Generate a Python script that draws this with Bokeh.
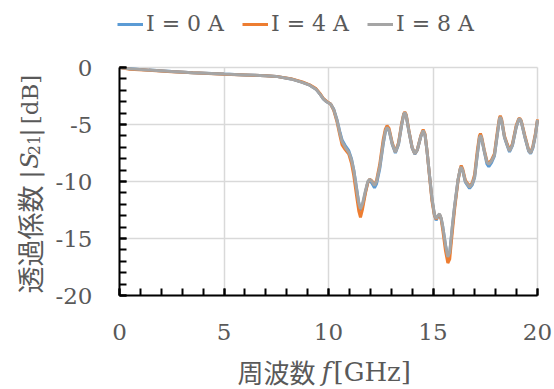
import math
from bokeh.plotting import figure
from bokeh.models import Range1d, FixedTicker, Legend, LegendItem, Label, Grid
from bokeh.embed import file_html
from bokeh.resources import INLINE

# ---------------- data ----------------
freq_ghz = [0.0, 0.5, 1.4, 2.5, 3.5, 5.0, 6.0, 7.0, 7.5, 8.2,
            8.75, 9.1, 9.4, 9.62, 9.75, 9.9, 10.1, 10.25, 10.41, 10.55,
            10.65, 10.8, 10.97, 11.1, 11.21, 11.37, 11.45, 11.53, 11.62, 11.77,
            11.88, 11.97, 12.08, 12.2, 12.3, 12.45, 12.62, 12.72, 12.8, 12.9,
            13.05, 13.2, 13.35, 13.5, 13.6, 13.65, 13.72, 13.85, 14.0, 14.13,
            14.25, 14.42, 14.53, 14.62, 14.72, 14.83, 14.95, 15.07, 15.15, 15.23,
            15.31, 15.39, 15.47, 15.6, 15.71, 15.8, 15.92, 16.03, 16.2, 16.3,
            16.35, 16.42, 16.55, 16.75, 16.88, 16.99, 17.12, 17.22, 17.27, 17.33,
            17.45, 17.58, 17.67, 17.8, 17.94, 18.08, 18.18, 18.22, 18.28, 18.42,
            18.55, 18.66, 18.8, 18.98, 19.1, 19.15, 19.22, 19.4, 19.58, 19.67,
            19.78, 19.9, 20.0]

s21_i0 = [0.0, -0.12, -0.23, -0.35, -0.45, -0.58, -0.65, -0.72, -0.78, -1.0,
          -1.3, -1.55, -1.9, -2.4, -2.75, -3.0, -3.2, -3.65, -4.6, -5.7,
          -6.35, -6.85, -7.3, -8.0, -9.0, -10.9, -11.9, -12.55, -12.2, -10.9,
          -10.1, -9.9, -10.15, -10.55, -10.2, -8.9, -6.7, -5.65, -5.3, -5.55,
          -6.75, -7.5, -6.75, -5.05, -4.15, -4.0, -4.25, -5.65, -7.05, -7.6,
          -7.25, -6.05, -5.6, -5.95, -7.45, -9.4, -11.5, -12.95, -13.4, -13.1,
          -12.9, -13.25, -14.0, -15.6, -16.7, -16.3, -14.1, -12.25, -9.85, -8.95,
          -8.8, -9.05, -10.05, -10.6, -10.3, -9.65, -7.65, -6.25, -6.0, -6.25,
          -7.35, -8.45, -8.7, -8.35, -7.75, -5.85, -4.55, -4.4, -4.65, -6.15,
          -6.85, -7.4, -6.85, -5.25, -4.6, -4.55, -4.75, -6.15, -7.35, -7.55,
          -7.05, -5.95, -4.65]

s21_i4 = [0.0, -0.15, -0.25, -0.37, -0.47, -0.6, -0.66, -0.73, -0.78, -0.98,
          -1.27, -1.52, -1.85, -2.35, -2.7, -2.95, -3.2, -3.75, -4.8, -6.0,
          -6.8, -7.2, -7.6, -8.4, -9.5, -11.6, -12.6, -13.15, -12.5, -11.0,
          -10.1, -9.8, -9.95, -10.3, -9.9, -8.5, -6.3, -5.4, -5.1, -5.35,
          -6.6, -7.4, -6.6, -4.9, -4.05, -3.9, -4.15, -5.55, -7.0, -7.55,
          -7.2, -5.95, -5.45, -5.85, -7.4, -9.5, -11.7, -13.0, -13.3, -13.05,
          -12.9, -13.3, -14.3, -16.1, -17.15, -16.8, -14.5, -12.5, -9.9, -8.9,
          -8.6, -8.9, -9.9, -10.4, -10.1, -9.4, -7.3, -6.0, -5.8, -6.1,
          -7.2, -8.2, -8.4, -8.1, -7.55, -5.6, -4.4, -4.25, -4.5, -6.0,
          -6.7, -7.25, -6.7, -5.1, -4.5, -4.45, -4.65, -6.0, -7.25, -7.45,
          -6.9, -5.8, -4.55]

s21_i8 = [0.0, -0.12, -0.23, -0.35, -0.45, -0.58, -0.65, -0.72, -0.78, -1.0,
          -1.3, -1.55, -1.9, -2.4, -2.75, -3.0, -3.2, -3.7, -4.67, -5.8,
          -6.5, -7.0, -7.44, -8.1, -9.04, -11.0, -11.9, -12.4, -12.0, -10.8,
          -10.0, -9.8, -10.0, -10.35, -10.0, -8.75, -6.6, -5.6, -5.25, -5.5,
          -6.7, -7.44, -6.7, -5.0, -4.1, -3.94, -4.2, -5.6, -7.0, -7.55,
          -7.2, -6.0, -5.54, -5.9, -7.4, -9.4, -11.5, -12.9, -13.25, -13.0,
          -12.84, -13.2, -14.0, -15.6, -16.63, -16.2, -14.0, -12.2, -9.8, -8.9,
          -8.73, -9.0, -10.0, -10.5, -10.2, -9.6, -7.6, -6.2, -5.95, -6.2,
          -7.3, -8.3, -8.5, -8.2, -7.7, -5.8, -4.5, -4.35, -4.6, -6.1,
          -6.8, -7.33, -6.8, -5.2, -4.55, -4.5, -4.7, -6.1, -7.3, -7.5,
          -7.0, -5.9, -4.6]

series_names = ["I = 0 A", "I = 4 A", "I = 8 A"]
series_colors = ["#5B9BD5", "#ED7D31", "#A5A5A5"]

x_ticks = [0, 5, 10, 15, 20]
x_tick_labels = ["0", "5", "10", "15", "20"]
y_ticks = [-20, -15, -10, -5, 0]
y_tick_labels = ["-20", "-15", "-10", "-5", "0"]
X_MIN, X_MAX = 0, 20
Y_MIN, Y_MAX = -20, 0

# ---------------- layout ----------------
# The frame covers the whole canvas; the axes sit at fixed data locations so
# that legend and titles can be drawn as annotations inside the frame.
W, H = 554, 389
PL, PR, PT, PB = 119, 537, 67, 295          # visible plot area in pixels
PX_X = (PR - PL) / (X_MAX - X_MIN)
PX_Y = (PB - PT) / (Y_MAX - Y_MIN)

def dx(px):
    return X_MIN + (px - PL) / PX_X

def dy(py):
    return Y_MAX - (py - PT) / PX_Y

LATIN = "DejaVu Serif"
CJK = "Noto Sans CJK JP"
GREY_TXT = "#595959"

p = figure(width=W, height=H, output_backend="svg", toolbar_location=None,
           x_range=Range1d(dx(0), dx(W)), y_range=Range1d(dy(H), dy(0)),
           min_border=0)
p.outline_line_color = None
p.background_fill_color = "white"
p.border_fill_color = "white"

p.xaxis.ticker = FixedTicker(ticks=x_ticks, minor_ticks=list(range(X_MIN, X_MAX + 1)))
p.yaxis.ticker = FixedTicker(ticks=y_ticks, minor_ticks=list(range(Y_MIN, Y_MAX + 1)))
p.xaxis.major_label_overrides = dict(zip(x_ticks, x_tick_labels))
p.yaxis.major_label_overrides = dict(zip(y_ticks, y_tick_labels))
p.xaxis.fixed_location = Y_MIN
p.yaxis.fixed_location = X_MIN
p.xaxis.bounds = (X_MIN, X_MAX)
p.yaxis.bounds = (Y_MIN, Y_MAX)

for ax in (p.xaxis[0], p.yaxis[0]):
    ax.axis_line_color = "black"
    ax.axis_line_width = 2
    ax.major_tick_line_color = "black"
    ax.major_tick_line_width = 2
    ax.major_tick_in = 7
    ax.major_tick_out = 0
    ax.minor_tick_line_color = "black"
    ax.minor_tick_line_width = 2
    ax.minor_tick_in = 7
    ax.minor_tick_out = 0
    ax.major_label_text_font = LATIN
    ax.major_label_text_font_size = "23px"
    ax.major_label_text_color = GREY_TXT
p.xaxis.major_label_standoff = 28
p.yaxis.major_label_standoff = 27

GRID_COLOR = "#d9d9d9"
if "cross_bounds" in Grid.properties():
    for g in (p.xgrid[0], p.ygrid[0]):
        g.grid_line_color = GRID_COLOR
        g.grid_line_width = 1.5
    p.xgrid[0].bounds = (X_MIN, X_MAX)
    p.xgrid[0].cross_bounds = (Y_MIN, Y_MAX)
    p.ygrid[0].bounds = (Y_MIN, Y_MAX)
    p.ygrid[0].cross_bounds = (X_MIN, X_MAX)
else:
    p.xgrid.visible = False
    p.ygrid.visible = False
    p.segment(x0=x_ticks, y0=[Y_MIN] * len(x_ticks), x1=x_ticks, y1=[Y_MAX] * len(x_ticks),
              line_color=GRID_COLOR, line_width=1.5)
    p.segment(x0=[X_MIN] * len(y_ticks), y0=y_ticks, x1=[X_MAX] * len(y_ticks), y1=y_ticks,
              line_color=GRID_COLOR, line_width=1.5)

renderers = []
for ys, c in zip([s21_i0, s21_i4, s21_i8], series_colors):
    r = p.line(freq_ghz, ys, line_color=c, line_width=3)
    renderers.append(r)

legend = Legend(items=[LegendItem(label=n, renderers=[r]) for n, r in zip(series_names, renderers)],
                orientation="horizontal", location=(117, H - 36),
                label_text_font=LATIN, label_text_font_size="22px",
                label_text_color=GREY_TXT, glyph_width=26, glyph_height=22,
                label_height=22, label_width=96, label_standoff=3, spacing=0,
                padding=0, margin=0, border_line_color=None,
                background_fill_alpha=0)
p.add_layout(legend, "center")

# x axis title: 周波数 f[GHz]
XL_BASE = 371
for txt, left, font, size, style in [("周波数", 237, CJK, "26px", "normal"),
                                     ("f", 321, LATIN, "26px", "italic"),
                                     ("[GHz]", 333, LATIN, "26px", "normal")]:
    p.add_layout(Label(x=dx(left), y=dy(XL_BASE), text=txt, text_font=font,
                       text_font_size=size, text_font_style=style,
                       text_color=GREY_TXT, text_align="left",
                       text_baseline="alphabetic"))

# y axis title: 透過係数 |S21| [dB]   (rotated)
for txt, bx, cy, font, size, style in [("透過係数", 29, 239, CJK, "27px", "normal"),
                                       ("|", 29, 174, LATIN, "24px", "normal"),
                                       ("S", 29, 160, LATIN, "24px", "italic"),
                                       ("21", 33, 144.5, LATIN, "16px", "normal"),
                                       ("|", 29, 132, LATIN, "24px", "normal"),
                                       ("[dB]", 29, 99, LATIN, "23px", "normal")]:
    p.add_layout(Label(x=dx(bx), y=dy(cy), text=txt, text_font=font,
                       text_font_size=size, text_font_style=style,
                       text_color=GREY_TXT, text_align="center",
                       text_baseline="alphabetic", angle=math.pi / 2))

open("out.html", "w").write(file_html(p, INLINE))
